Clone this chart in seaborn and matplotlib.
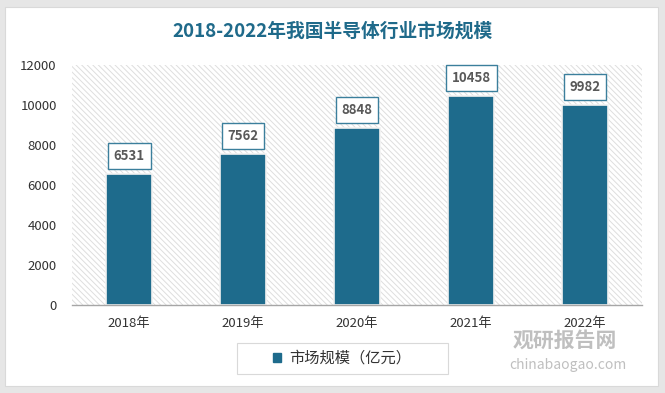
import matplotlib
matplotlib.use('Agg')
import pandas as pd
import seaborn as sns
import matplotlib.pyplot as plt
from matplotlib.patches import Rectangle

years = ['2018年', '2019年', '2020年', '2021年', '2022年']
market_size = [6531, 7562, 8848, 10458, 9982]
series_name = '市场规模（亿元）'
title = '2018-2022年我国半导体行业市场规模'

df = pd.DataFrame({'year': years, 'value': market_size})

sns.set_style('white')
plt.rcParams['font.family'] = ['Noto Sans CJK SC', 'DejaVu Sans']
plt.rcParams['hatch.color'] = '#dedede'
plt.rcParams['hatch.linewidth'] = 0.7
bar_color = '#1e6b8c'

fig = plt.figure(figsize=(6.65, 3.93), dpi=100, facecolor='#e6e6e6')
# white card
fig.patches.append(Rectangle((5 / 665, 7 / 393), 653 / 665, 379 / 393, transform=fig.transFigure,
                             facecolor='white', edgecolor='#d9d9d9', lw=0.8, zorder=-5))
# legend frame (drawn separately, wider than matplotlib's own)
fig.patches.append(Rectangle((237 / 665, 1 - 374 / 393), 211 / 665, 31 / 393, transform=fig.transFigure,
                             facecolor='white', edgecolor='#d9d9d9', lw=0.8, zorder=-4))

ax = fig.add_axes([72 / 665, 1 - 305 / 393, 570 / 665, 240 / 393])
ax.set_facecolor('none')
ax.add_patch(Rectangle((0, 0), 1, 1, transform=ax.transAxes, facecolor='white',
                       edgecolor='#dedede', hatch='\\\\\\\\\\\\', lw=0, zorder=0))

sns.barplot(data=df, x='year', y='value', color=bar_color, width=0.41,
            edgecolor='#f2f2f2', linewidth=1.2, ax=ax, zorder=2, saturation=1)

ax.set_ylim(0, 12000)
ax.set_yticks(range(0, 12001, 2000))
ax.set_xlabel('')
ax.set_ylabel('')
ax.tick_params(axis='both', length=0, labelsize=9.5, colors='#333333')
ax.tick_params(axis='x', pad=9)
ax.tick_params(axis='y', pad=11)
for s in ['top', 'right', 'left']:
    ax.spines[s].set_visible(False)
ax.spines['bottom'].set_color('#a6a6a6')
ax.spines['bottom'].set_linewidth(1.0)

for i, v in enumerate(market_size):
    ax.annotate(f'{v}', (i, v), xytext=(0, 18), textcoords='offset pixels',
                ha='center', va='center', fontsize=9.5, fontweight='bold', color='#595959',
                bbox=dict(boxstyle='square,pad=0.45', fc='white', ec='#3b7f9c', lw=1.0), zorder=5)

fig.text(333 / 665, 1 - 31 / 393, title, ha='center', va='center', fontsize=13.5,
         fontweight='bold', color='#1f6a8a')

leg = ax.legend(handles=[Rectangle((0, 0), 1, 1, color=bar_color)], labels=[series_name],
                loc='center', bbox_to_anchor=(342 / 665, 1 - 358.5 / 393), bbox_transform=fig.transFigure,
                frameon=False, fontsize=11,
                handlelength=0.55, handleheight=0.55, handletextpad=0.5, borderaxespad=0)
for t in leg.get_texts():
    t.set_color('#333333')

# watermark
fig.text(565 / 665, 1 - 340 / 393, '观研报告网', ha='center', va='center', fontsize=15,
         fontweight='bold', color='#b0b0b0', alpha=0.8)
fig.text(568 / 665, 1 - 365 / 393, 'chinabaogao.com', ha='center', va='center', fontsize=10,
         color='#b0b0b0', alpha=0.8)

fig.savefig('out.png', dpi=100, facecolor=fig.get_facecolor())
